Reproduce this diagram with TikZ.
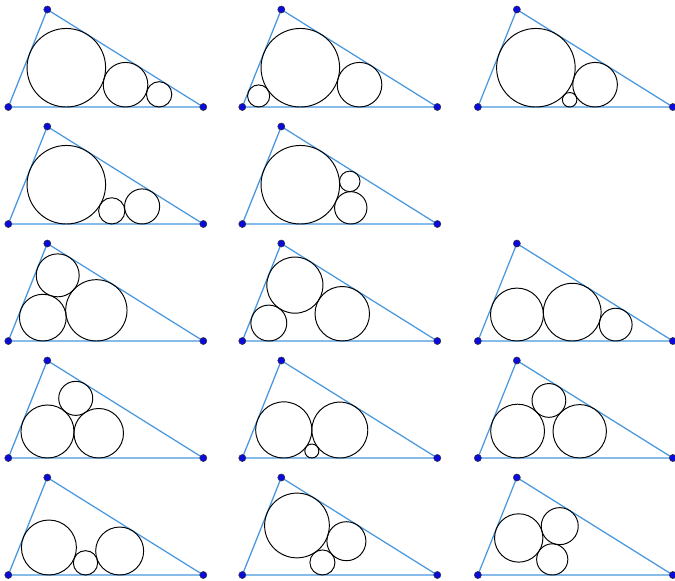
\documentclass[tikz,border=0pt]{standalone}
\usepackage{tikz}

\definecolor{sideblue}{RGB}{70,150,222}
\definecolor{dotblue}{RGB}{10,10,220}

\tikzset{
  side/.style={line width=0.9pt, sideblue},
  vertex/.style={fill=dotblue, draw=black!80, line width=0.35pt},
  disk/.style={line width=0.7pt, black}
}

\begin{document}
\begin{tikzpicture}[x=1cm,y=1cm]
        \useasboundingbox (-0.213,-12.128) rectangle (17.095,2.744);

        % Triangles A(0,0), B(1,2.5), C(5,0)
        \foreach \px/\py/\n in {0/0/1, 6/0/2, 12.04/0/3, 0/-3/4, 6/-3/5,
                                0/-6/6, 6/-6/7, 12.04/-6/8, 0/-9/9, 6/-9/10,
                                12.04/-9/11, 0/-12/12, 6/-12/13, 12.04/-12/14} {
            \coordinate (A\n) at (\px,\py);
            \coordinate (B\n) at (\px+1,\py+2.5);
            \coordinate (C\n) at (\px+5,\py);
            \draw[side] (A\n) -- (B\n) -- (C\n) -- cycle;
            \foreach \v in {A,B,C}
                \filldraw[vertex] (\v\n) circle (2.6pt);
        }

        % Ligne 1
        \begin{scope}[shift={(A1)}]
            \draw[disk] (1.4878,1.0073) circle (1.0073);
            \draw[disk] (3.0058,0.5719) circle (0.5719);
            \draw[disk] (3.8677,0.3247) circle (0.3247);
        \end{scope}
        \begin{scope}[shift={(A2)}]
            \draw[disk] (1.4878,1.0073) circle (1.0073);
            \draw[disk] (3.0058,0.5719) circle (0.5719);
            \draw[disk] (0.4189,0.2836) circle (0.2836);
        \end{scope}
        \begin{scope}[shift={(A3)}]
            \draw[disk] (1.4878,1.0073) circle (1.0073);
            \draw[disk] (3.0058,0.5719) circle (0.5719);
            \draw[disk] (2.3535,0.1860) circle (0.1860);
        \end{scope}

        % Ligne 2
        \begin{scope}[shift={(A4)}]
            \draw[disk] (1.4878,1.0073) circle (1.0073);
            \draw[disk] (2.6525,0.3367) circle (0.3367);
            \draw[disk] (3.4309,0.4500) circle (0.4500);
        \end{scope}
        \begin{scope}[shift={(A5)}]
            \draw[disk] (1.4878,1.0073) circle (1.0073);
            \draw[disk] (2.7809,0.4150) circle (0.4150);
            \draw[disk] (2.7553,1.0926) circle (0.2631);
        \end{scope}

        % Ligne 3
        \begin{scope}[shift={(A6)}]
            \draw[disk] (0.8850,0.5992) circle (0.5992);
            \draw[disk] (2.2579,0.7864) circle (0.7864);
            \draw[disk] (1.2667,1.6839) circle (0.5507);
        \end{scope}
        \begin{scope}[shift={(A7)}]
            \draw[disk] (1.3487,1.4330) circle (0.7200);
            \draw[disk] (2.5630,0.6989) circle (0.6989);
            \draw[disk] (0.6800,0.4604) circle (0.4604);
        \end{scope}
        \begin{scope}[shift={(A8)}]
            \draw[disk] (1.0024,0.6787) circle (0.6787);
            \draw[disk] (2.4197,0.7400) circle (0.7400);
            \draw[disk] (3.5349,0.4202) circle (0.4202);
        \end{scope}

        % Ligne 4
        \begin{scope}[shift={(A9)}]
            \draw[disk] (1.0044,0.6800) circle (0.6800);
            \draw[disk] (2.3186,0.6350) circle (0.6350);
            \draw[disk] (1.7288,1.5298) circle (0.4366);
        \end{scope}
        \begin{scope}[shift={(A10)}]
            \draw[disk] (1.0635,0.7200) circle (0.7200);
            \draw[disk] (2.5003,0.7169) circle (0.7169);
            \draw[disk] (1.7827,0.1796) circle (0.1796);
        \end{scope}
        \begin{scope}[shift={(A11)}]
            \draw[disk] (1.0191,0.6900) circle (0.6900);
            \draw[disk] (2.6115,0.6850) circle (0.6850);
            \draw[disk] (1.8213,1.4762) circle (0.4330);
        \end{scope}

        % Ligne 5
        \begin{scope}[shift={(A12)}]
            \draw[disk] (1.0413,0.7050) circle (0.7050);
            \draw[disk] (2.8556,0.6150) circle (0.6150);
            \draw[disk] (1.9794,0.3121) circle (0.3121);
        \end{scope}
        \begin{scope}[shift={(A13)}]
            \draw[disk] (1.4019,1.2700) circle (0.8300);
            \draw[disk] (2.6694,0.8670) circle (0.5000);
            \draw[disk] (2.0547,0.3215) circle (0.3215);
        \end{scope}
        \begin{scope}[shift={(A14)}]
            \draw[disk] (1.0478,0.9500) circle (0.6200);
            \draw[disk] (1.9068,0.4000) circle (0.4000);
            \draw[disk] (2.0996,1.2531) circle (0.4746);
        \end{scope}
\end{tikzpicture}
\end{document}
